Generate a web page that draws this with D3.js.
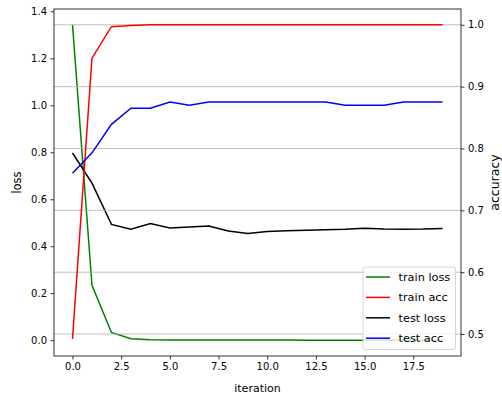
<!DOCTYPE html>
<html>
<head>
<meta charset="utf-8">
<script src="https://cdn.jsdelivr.net/npm/d3@7"></script>
<style>
  body { margin: 0; background: #fff; }
  svg text { font-family: "DejaVu Sans", sans-serif; font-size: 10px; fill: #000; }
</style>
</head>
<body>
<div id="chart"></div>
<script>
// data
const iterations = d3.range(20);
const trainLoss = [1.343, 0.234, 0.033, 0.006, 0.002, 0.001, 0.001, 0.001, 0.0005, 0.0005,
    0.0004, 0.0004, 0.0003, 0.0003, 0.0003, 0.0002, 0.0002, 0.0002, 0.0002, 0.0002];
const testLoss = [0.797, 0.669, 0.493, 0.473, 0.497, 0.478, 0.482, 0.486, 0.465, 0.454,
    0.463, 0.466, 0.468, 0.470, 0.472, 0.477, 0.473, 0.472, 0.473, 0.476];
const trainAcc = [0.492, 0.946, 0.997, 0.999, 1.0, 1.0, 1.0, 1.0, 1.0, 1.0,
    1.0, 1.0, 1.0, 1.0, 1.0, 1.0, 1.0, 1.0, 1.0, 1.0];
const testAcc = [0.760, 0.793, 0.839, 0.865, 0.865, 0.875, 0.870, 0.875, 0.875, 0.875,
    0.875, 0.875, 0.875, 0.875, 0.870, 0.870, 0.870, 0.875, 0.875, 0.875];
const xTicks = [0, 2.5, 5, 7.5, 10, 12.5, 15, 17.5];
const lossTicks = [0, 0.2, 0.4, 0.6, 0.8, 1.0, 1.2, 1.4];
const accTicks = [0.5, 0.6, 0.7, 0.8, 0.9, 1.0];

const W = 502, H = 396;
const margin = { top: 9, right: 41, bottom: 40, left: 54 },
    width = W - margin.left - margin.right,
    height = H - margin.top - margin.bottom;

const svg = d3.select("#chart")
    .append("svg")
    .attr("width", W)
    .attr("height", H);

const g = svg.append("g")
    .attr("transform", `translate(${margin.left}, ${margin.top})`);

const x = d3.scaleLinear().domain([-0.95, 19.95]).range([0, width]);
const yLoss = d3.scaleLinear().domain([-0.0672, 1.410]).range([height, 0]);
const yAcc = d3.scaleLinear().domain([0.4645, 1.0255]).range([height, 0]);

const lossLine = d3.line().x((d, i) => x(iterations[i])).y(d => yLoss(d));
const accLine = d3.line().x((d, i) => x(iterations[i])).y(d => yAcc(d));

// loss lines (first axes)
const series1 = [
    { name: "train loss", values: trainLoss, color: "green" },
    { name: "test loss", values: testLoss, color: "black" }
];
g.selectAll(".loss")
    .data(series1)
    .join("path")
    .attr("fill", "none")
    .attr("stroke", d => d.color)
    .attr("stroke-width", 1.5)
    .attr("d", d => lossLine(d.values));

// grid of the twin axes
g.append("g")
    .selectAll("line")
    .data(accTicks)
    .join("line")
    .attr("x1", 0).attr("x2", width)
    .attr("y1", d => yAcc(d)).attr("y2", d => yAcc(d))
    .attr("stroke", "#b0b0b0")
    .attr("stroke-width", 0.8);

const series2 = [
    { name: "train acc", values: trainAcc, color: "red" },
    { name: "test acc", values: testAcc, color: "blue" }
];
g.selectAll(".acc")
    .data(series2)
    .join("path")
    .attr("fill", "none")
    .attr("stroke", d => d.color)
    .attr("stroke-width", 1.5)
    .attr("d", d => accLine(d.values));

// axes
const styleAxis = sel => {
    sel.select(".domain").remove();
    sel.selectAll("line").attr("stroke", "#000").attr("stroke-width", 0.8);
    sel.selectAll("text").style("font-family", "DejaVu Sans").style("font-size", "10px");
};

g.append("g")
    .attr("transform", `translate(0, ${height})`)
    .call(d3.axisBottom(x).tickValues(xTicks).tickSize(3.5).tickPadding(3.5).tickFormat(d3.format(".1f")))
    .call(styleAxis);

g.append("g")
    .call(d3.axisLeft(yLoss).tickValues(lossTicks).tickSize(3.5).tickPadding(3.5).tickFormat(d3.format(".1f")))
    .call(styleAxis);

g.append("g")
    .attr("transform", `translate(${width}, 0)`)
    .call(d3.axisRight(yAcc).tickValues(accTicks).tickSize(3.5).tickPadding(3.5).tickFormat(d3.format(".1f")))
    .call(styleAxis);

// frame
g.append("rect")
    .attr("width", width).attr("height", height)
    .attr("fill", "none")
    .attr("stroke", "#000")
    .attr("stroke-width", 0.8);

// axis labels
svg.append("text")
    .attr("x", margin.left + width / 2).attr("y", 392)
    .attr("text-anchor", "middle")
    .style("font-size", "11px")
    .text("iteration");
svg.append("text")
    .attr("transform", `translate(21, ${margin.top + height / 2}) rotate(-90)`)
    .attr("text-anchor", "middle")
    .style("font-size", "11.5px")
    .text("loss");
svg.append("text")
    .attr("transform", `translate(499, ${margin.top + height / 2}) rotate(-90)`)
    .attr("text-anchor", "middle")
    .style("font-size", "12.5px")
    .text("accuracy");

// legend
const legendItems = [series1[0], series2[0], series1[1], series2[1]];
const legend = svg.append("g").attr("transform", "translate(363, 267)");
legend.append("rect")
    .attr("width", 92.5).attr("height", 82.5)
    .attr("rx", 2.5)
    .attr("fill", "#fff").attr("fill-opacity", 0.8)
    .attr("stroke", "#cccccc").attr("stroke-width", 0.8);
const rows = legend.selectAll(".row")
    .data(legendItems)
    .join("g")
    .attr("transform", (d, i) => `translate(0, ${10 + i * 20.4})`);
rows.append("line")
    .attr("x1", 3).attr("x2", 27)
    .attr("stroke", d => d.color).attr("stroke-width", 1.5);
rows.append("text")
    .attr("x", 35.5).attr("dy", "0.35em")
    .style("font-size", "11.3px")
    .text(d => d.name);
</script>
</body>
</html>
